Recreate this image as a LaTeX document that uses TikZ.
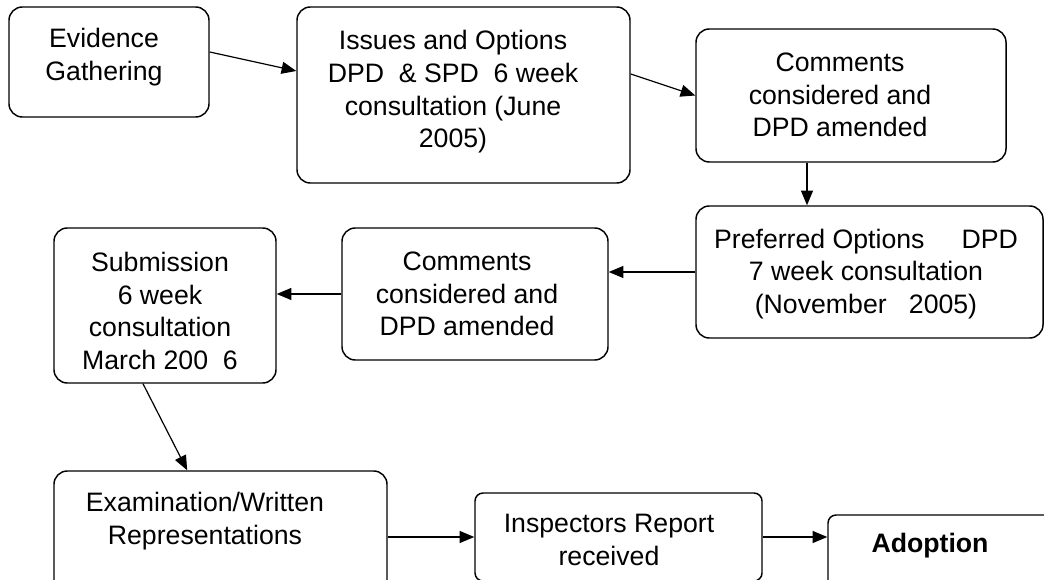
\documentclass[tikz,border=0pt]{standalone}
\usepackage{fontspec}
\setmainfont{Liberation Sans}
\usetikzlibrary{arrows.meta,fit}

\tikzset{every picture/.style={line width=0.75pt}}
\tikzset{
  stage/.style={draw, rounded corners=10pt, line width=1.1pt, inner sep=0pt},
  smallstage/.style={stage, rounded corners=6pt},
  txt/.style={align=center, inner sep=0.75pt, font=\fontsize{20}{24.5}\selectfont},
  flow/.style={-{Triangle[length=11pt,width=9pt]}, line width=0.9pt}
}

\begin{document}
\begin{tikzpicture}[x=0.75pt,y=0.75pt,yscale=-1,xscale=1]
    \useasboundingbox (0,0) rectangle (1044,580);
    \clip (0,0) rectangle (1044,580);

    %Shape: Rounded Rect [id:evid]
    \node [stage, fit={(9,7) (209,117)}] (evid) {};
    %Shape: Rounded Rect [id:issues]
    \node [stage, fit={(297,7) (630,183)}] (issues) {};
    %Shape: Rounded Rect [id:comA]
    \node [stage, fit={(696,29) (1006,162)}] (comA) {};
    %Shape: Rounded Rect [id:pref]
    \node [stage, fit={(696,206) (1043,338)}] (pref) {};
    %Shape: Rounded Rect [id:comB]
    \node [stage, fit={(342,228) (608,360)}] (comB) {};
    %Shape: Rounded Rect [id:subm]
    \node [stage, fit={(54,228) (276,383)}] (subm) {};
    %Shape: Rounded Rect [id:exam]
    \node [stage, fit={(54,471) (387,603)}] (exam) {};
    %Shape: Rounded Rect [id:insp]
    \node [smallstage, fit={(475,493) (762,581)}] (insp) {};
    %Shape: Rounded Rect [id:adop]
    \node [smallstage, fit={(828,515) (1070,599)}] (adop) {};

    %Straight Lines [id:evid-issues]
    \draw [flow] ([yshift=-7.5pt]evid.east) -- ([yshift=-18pt]issues.west) ;
    %Straight Lines [id:issues-comA]
    \draw [flow] ([yshift=-15.75pt]issues.east) -- (comA.west) ;
    %Straight Lines [id:comA-pref]
    \draw [flow] ([xshift=-33pt]comA.south) -- ([xshift=-33pt]comA.south |- pref.north) ;
    %Straight Lines [id:pref-comB]
    \draw [flow] (pref.west) -- (comB.east |- pref.west) ;
    %Straight Lines [id:comB-subm]
    \draw [flow] (comB.west) -- (subm.east |- comB.west) ;
    %Straight Lines [id:subm-exam]
    \draw [flow] ([xshift=-16.5pt]subm.south) -- ([xshift=-25pt]exam.north) ;
    %Straight Lines [id:exam-insp]
    \draw [flow] (exam.east) -- (exam.east -| insp.west) ;
    %Straight Lines [id:insp-adop]
    \draw [flow] (insp.east) -- (insp.east -| adop.west) ;

    % Text Node
    \node [txt] (evidT) at (104,57) {Evidence\\Gathering};
    % Text Node
    \node [txt] (issT) at (453,92) {Issues and Options\\DPD~~\& SPD~~6 week\\consultation (June\\2005)};
    % Text Node
    \node [txt] (comAT) at (840,95) {Comments\\considered and\\DPD amended};
    % Text Node
    \node [txt] (prefT) at (866,274) {Preferred Options~~~~~DPD\\7 week consultation\\(November~~~2005)};
    % Text Node
    \node [txt] (comBT) at (467,294) {Comments\\considered and\\DPD amended};
    % Text Node
    \node [txt] (subT) at (160,311) {Submission\\6 week\\consultation\\March 200~~6};
    % Text Node
    \node [txt] (examT) at (205,521) {Examination/Written\\Representations};
    % Text Node
    \node [txt] (inspT) at (609,540) {Inspectors Report\\received};
    % Text Node
    \node [txt] (adopT) at (930,546) {\bfseries Adoption};

\end{tikzpicture}
\end{document}
